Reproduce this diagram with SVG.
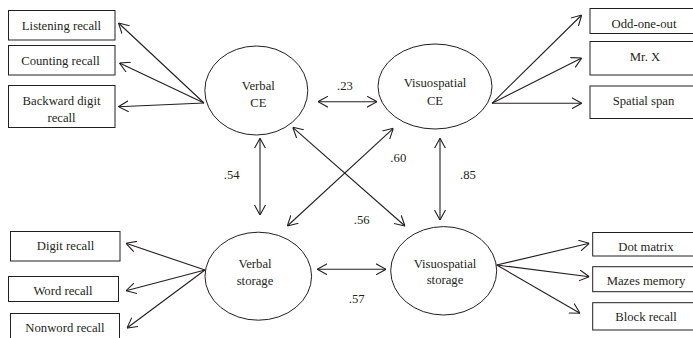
<svg xmlns="http://www.w3.org/2000/svg" width="693" height="338" viewBox="0 0 693 338">
<style>
text{font-family:'Liberation Serif','DejaVu Serif',serif;font-size:12.7px;fill:#231f20;text-anchor:middle}
.box{fill:#fff;stroke:#231f20;stroke-width:1}
.lat{fill:#fff;stroke:#231f20;stroke-width:1}
.c{stroke:#231f20;stroke-width:1.1;fill:none;marker-end:url(#ah)}
.d{stroke:#231f20;stroke-width:1.1;fill:none;marker-end:url(#ah);marker-start:url(#ah)}
</style>
<defs>
<marker id="ah" viewBox="0 0 10 12" refX="10" refY="6" markerWidth="10" markerHeight="12" markerUnits="userSpaceOnUse" orient="auto-start-reverse">
<path d="M0,0.5 L10,6 L0,11.5" fill="none" stroke="#231f20" stroke-width="1.1"/>
</marker>
</defs>
<rect width="693" height="338" fill="#fff"/>
<g id="connectors">
<line class="c" x1="204" y1="103" x2="118.5" y2="23"/>
<line class="c" x1="204" y1="103" x2="119.5" y2="63"/>
<line class="c" x1="204" y1="103" x2="118.5" y2="106.7"/>
<line class="c" x1="492" y1="103.3" x2="581.7" y2="15"/>
<line class="c" x1="492" y1="103.3" x2="581.7" y2="58"/>
<line class="c" x1="492" y1="103.3" x2="581.7" y2="103.3"/>
<line class="c" x1="205" y1="270" x2="126" y2="243.3"/>
<line class="c" x1="205" y1="270" x2="126" y2="290.7"/>
<line class="c" x1="205" y1="270" x2="127" y2="328"/>
<line class="c" x1="496.7" y1="265" x2="589.3" y2="243.3"/>
<line class="c" x1="496.7" y1="265" x2="589.3" y2="276.7"/>
<line class="c" x1="496.7" y1="265" x2="580" y2="313.3"/>
<line class="d" x1="318" y1="101.7" x2="377" y2="101.7"/>
<line class="d" x1="260" y1="138.3" x2="260" y2="215"/>
<line class="d" x1="440" y1="138.3" x2="440" y2="220"/>
<line class="d" x1="292.7" y1="127.3" x2="405" y2="226"/>
<line class="d" x1="393.3" y1="128.3" x2="287.3" y2="226"/>
<line class="d" x1="317.3" y1="269.3" x2="386" y2="269.3"/>
</g>
<g font-family="Liberation Serif, DejaVu Serif, serif">
<g id="listening"><rect class="box" x="8.5" y="10.5" width="106.5" height="29.5"/><text x="61.5" y="29.5">Listening recall</text></g>
<g id="counting"><rect class="box" x="8.5" y="45.5" width="106.5" height="29.5"/><text x="60.5" y="64.5">Counting recall</text></g>
<g id="backward"><rect class="box" x="8.5" y="85.5" width="106.5" height="42"/><text x="61.5" y="104.5">Backward digit</text><text x="61.5" y="121.8">recall</text></g>
<g id="oddoneout"><rect class="box" x="590" y="8.5" width="104" height="25"/><text x="644" y="27.5">Odd-one-out</text></g>
<g id="mrx"><rect class="box" x="590" y="41.5" width="104" height="33.5"/><text x="645" y="61">Mr. X</text></g>
<g id="spatialspan"><rect class="box" x="590" y="86" width="104" height="32.5"/><text x="643.5" y="104.5">Spatial span</text></g>
<g id="digit"><rect class="box" x="10.5" y="231.5" width="109.5" height="29.5"/><text x="65.5" y="250">Digit recall</text></g>
<g id="word"><rect class="box" x="8.5" y="276.5" width="110" height="25"/><text x="63" y="295">Word recall</text></g>
<g id="nonword"><rect class="box" x="10.5" y="313.5" width="109" height="30"/><text x="65" y="332">Nonword recall</text></g>
<g id="dotmatrix"><rect class="box" x="592.7" y="232.5" width="102" height="23.5"/><text x="646" y="250.5">Dot matrix</text></g>
<g id="mazes"><rect class="box" x="592.7" y="266.7" width="102" height="25"/><text x="646" y="285">Mazes memory</text></g>
<g id="block"><rect class="box" x="592.7" y="302.7" width="102" height="27.3"/><text x="646" y="321">Block recall</text></g>
<g id="verbalCE"><ellipse class="lat" cx="256.3" cy="90.5" rx="51.5" ry="44.5"/><text x="258.3" y="90">Verbal</text><text x="258.3" y="107.3">CE</text></g>
<g id="visuoCE"><ellipse class="lat" cx="435" cy="86.5" rx="57" ry="42.5"/><text x="435" y="87.3">Visuospatial</text><text x="435" y="105.3">CE</text></g>
<g id="verbalStorage"><ellipse class="lat" cx="258.3" cy="276.2" rx="53.3" ry="44"/><text x="255" y="268.3">Verbal</text><text x="255" y="285">storage</text></g>
<g id="visuoStorage"><ellipse class="lat" cx="443.7" cy="270.8" rx="53" ry="44.2"/><text x="445" y="267.6">Visuospatial</text><text x="445" y="284.3">storage</text></g>
<g id="labels">
<text x="345" y="90.3">.23</text>
<text x="231.7" y="179.3">.54</text>
<text x="468" y="179.3">.85</text>
<text x="398.3" y="162">.60</text>
<text x="361.7" y="224.3">.56</text>
<text x="356.7" y="302.6">.57</text>
</g>
</g>
</svg>
